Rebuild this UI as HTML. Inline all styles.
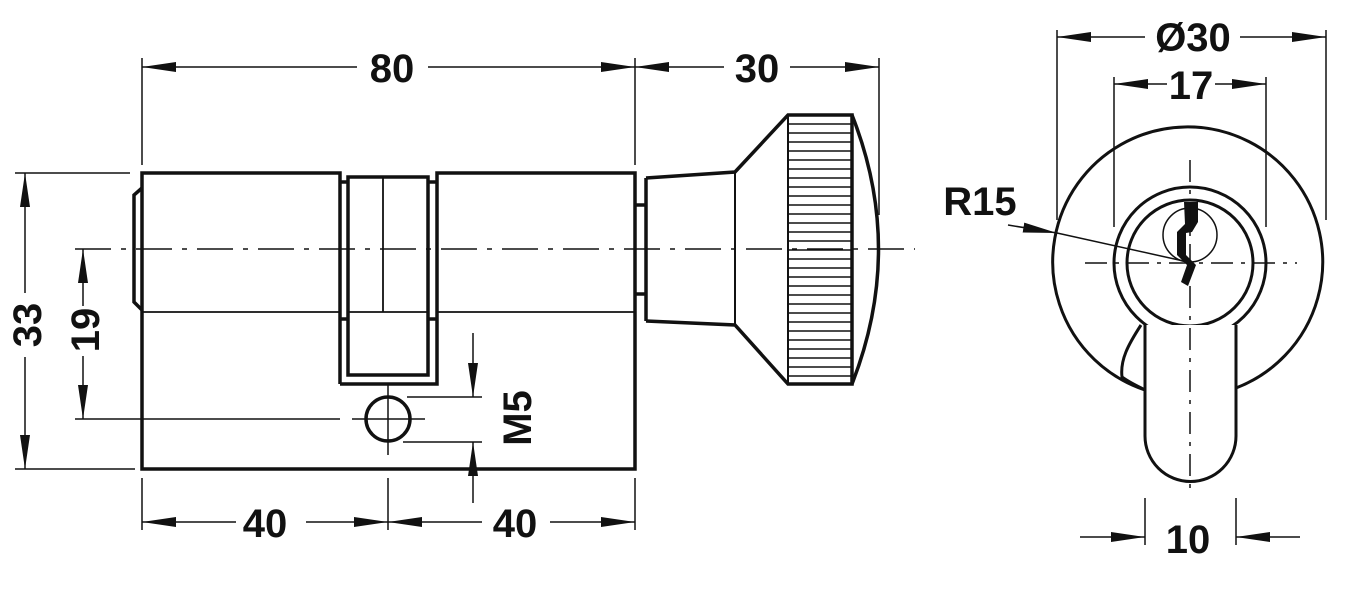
<!DOCTYPE html>
<html><head><meta charset="utf-8"><style>
html,body{margin:0;padding:0;background:#fff;}
svg{display:block;}
text{font-family:"Liberation Sans",sans-serif;font-weight:bold;font-size:40px;fill:#111;}
</style></head><body>
<svg width="1353" height="592" viewBox="0 0 1353 592" xmlns="http://www.w3.org/2000/svg">
<defs>
<marker id="a" viewBox="0 0 34 10" refX="34" refY="5" markerWidth="34" markerHeight="10" markerUnits="userSpaceOnUse" orient="auto"><path d="M0,0 L34,5 L0,10 Z" fill="#111"/></marker>
</defs>
<g stroke="#111" fill="none">
<!-- centerline left -->
<line x1="75" y1="249" x2="915" y2="249" stroke-width="1.5" stroke-dasharray="36,10,5,10"/>
<!-- body -->
<g stroke-width="3.5">
<polyline points="340,384 340,173 142,173 142,469 635,469 635,173 437,173 437,384 340,384"/>
<rect x="348" y="177" width="80" height="198"/>
<polyline points="142,188 134,195 134,302 142,310"/>
<line x1="340" y1="182" x2="348" y2="182"/><line x1="340" y1="319" x2="348" y2="319"/>
<line x1="428" y1="182" x2="437" y2="182"/><line x1="428" y1="319" x2="437" y2="319"/>
<circle cx="388" cy="419" r="22"/>
</g>
<g stroke-width="1.8">
<line x1="142" y1="312" x2="340" y2="312"/><line x1="348" y1="312" x2="428" y2="312"/><line x1="437" y1="312" x2="635" y2="312"/>
<line x1="383" y1="177" x2="383" y2="312"/>
</g>
<!-- knob -->
<g stroke-width="3.5">
<polyline points="635,205 646,205"/><polyline points="635,294 646,294"/>
<polyline points="646,178 646,321"/>
<polyline points="646,178 735,172 788,115 852,115 852,384 788,384 735,325 646,321"/>
<path d="M852,115 Q905,249 852,384"/>
</g>
<line x1="735" y1="172" x2="735" y2="325" stroke-width="2"/>
<line x1="788" y1="115" x2="788" y2="384" stroke-width="2"/>
<g stroke-width="1.5">
<path d="M788,124H852M788,133H852M788,142H852M788,151H852M788,160H852M788,169H852M788,178H852M788,187H852M788,196H852M788,205H852M788,214H852M788,223H852M788,232H852M788,241H852M788,250H852M788,259H852M788,268H852M788,277H852M788,286H852M788,295H852M788,304H852M788,313H852M788,322H852M788,331H852M788,340H852M788,349H852M788,358H852M788,367H852M788,376H852"/>
</g>
<!-- dims left -->
<g stroke-width="1.5">
<line x1="142" y1="58" x2="142" y2="165"/><line x1="635" y1="58" x2="635" y2="165"/><line x1="879" y1="58" x2="879" y2="215"/>
<line x1="357" y1="67" x2="142" y2="67" marker-end="url(#a)"/><line x1="428" y1="67" x2="635" y2="67" marker-end="url(#a)"/>
<line x1="724" y1="67" x2="635" y2="67" marker-end="url(#a)"/><line x1="790" y1="67" x2="879" y2="67" marker-end="url(#a)"/>
<line x1="15" y1="173" x2="130" y2="173"/><line x1="15" y1="469" x2="135" y2="469"/>
<line x1="25" y1="293" x2="25" y2="173" marker-end="url(#a)"/><line x1="25" y1="357" x2="25" y2="469" marker-end="url(#a)"/>
<line x1="75" y1="419" x2="340" y2="419"/><line x1="352" y1="419" x2="425" y2="419"/>
<line x1="83" y1="306" x2="83" y2="249" marker-end="url(#a)"/><line x1="83" y1="356" x2="83" y2="419" marker-end="url(#a)"/>
<line x1="388" y1="384" x2="388" y2="455"/>
<line x1="407" y1="397" x2="482" y2="397"/><line x1="403" y1="442" x2="482" y2="442"/>
<line x1="473" y1="333" x2="473" y2="397" marker-end="url(#a)"/><line x1="473" y1="503" x2="473" y2="442" marker-end="url(#a)"/>
<line x1="142" y1="478" x2="142" y2="530"/><line x1="388" y1="478" x2="388" y2="530"/><line x1="635" y1="478" x2="635" y2="530"/>
<line x1="236" y1="522" x2="142" y2="522" marker-end="url(#a)"/><line x1="306" y1="522" x2="388" y2="522" marker-end="url(#a)"/>
<line x1="482" y1="522" x2="388" y2="522" marker-end="url(#a)"/><line x1="550" y1="522" x2="635" y2="522" marker-end="url(#a)"/>
</g>
<!-- right view -->
<g stroke-width="3">
<path d="M1145,390 A135,135 0 1 1 1236,388"/>
<path d="M1141,325 C1128,345 1120,360 1122,377 C1130,383 1138,386 1145,390"/>
<circle cx="1190" cy="263" r="76" stroke-width="3" fill="#fff"/>
<circle cx="1190" cy="263" r="63" stroke-width="3"/>
<path d="M1145,325 V436 A45.5,45.5 0 0 0 1236,436 V325" fill="#fff"/>
</g>
<circle cx="1190" cy="235" r="27" stroke-width="1.5"/>
<path d="M1184,202 H1198 V222 L1192,232 L1186,233 V255 L1196,265 L1188,286 L1181,282 L1187,265 L1177,255 V232 L1185,224 Z" fill="#111" stroke="none"/>
<g stroke-width="1.5">
<line x1="1085" y1="263" x2="1297" y2="263" stroke-dasharray="22,8,4,8"/>
<line x1="1190" y1="160" x2="1190" y2="495" stroke-dasharray="22,8,4,8"/>
<line x1="1057" y1="30" x2="1057" y2="220"/><line x1="1326" y1="30" x2="1326" y2="220"/>
<line x1="1145" y1="37" x2="1057" y2="37" marker-end="url(#a)"/><line x1="1240" y1="37" x2="1326" y2="37" marker-end="url(#a)"/>
<line x1="1114" y1="77" x2="1114" y2="227"/><line x1="1266" y1="77" x2="1266" y2="227"/>
<line x1="1167" y1="84" x2="1114" y2="84" marker-end="url(#a)"/><line x1="1215" y1="84" x2="1266" y2="84" marker-end="url(#a)"/>
<line x1="1008" y1="225" x2="1057" y2="233" marker-end="url(#a)"/><line x1="1057" y1="233" x2="1188" y2="262"/>
<line x1="1145" y1="498" x2="1145" y2="545"/><line x1="1236" y1="498" x2="1236" y2="545"/>
<line x1="1080" y1="537" x2="1145" y2="537" marker-end="url(#a)"/><line x1="1300" y1="537" x2="1236" y2="537" marker-end="url(#a)"/>
</g>
</g>
<text x="392" y="82" text-anchor="middle">80</text>
<text x="757" y="82" text-anchor="middle">30</text>
<text x="265" y="537" text-anchor="middle">40</text>
<text x="515" y="537" text-anchor="middle">40</text>
<text transform="translate(41,325) rotate(-90)" text-anchor="middle">33</text>
<text transform="translate(99,330) rotate(-90)" text-anchor="middle">19</text>
<text transform="translate(531,418) rotate(-90)" text-anchor="middle">M5</text>
<text x="1193" y="51" text-anchor="middle">Ø30</text>
<text x="1191" y="99" text-anchor="middle">17</text>
<text x="980" y="215" text-anchor="middle">R15</text>
<text x="1188" y="553" text-anchor="middle">10</text>
</svg>
</body></html>
